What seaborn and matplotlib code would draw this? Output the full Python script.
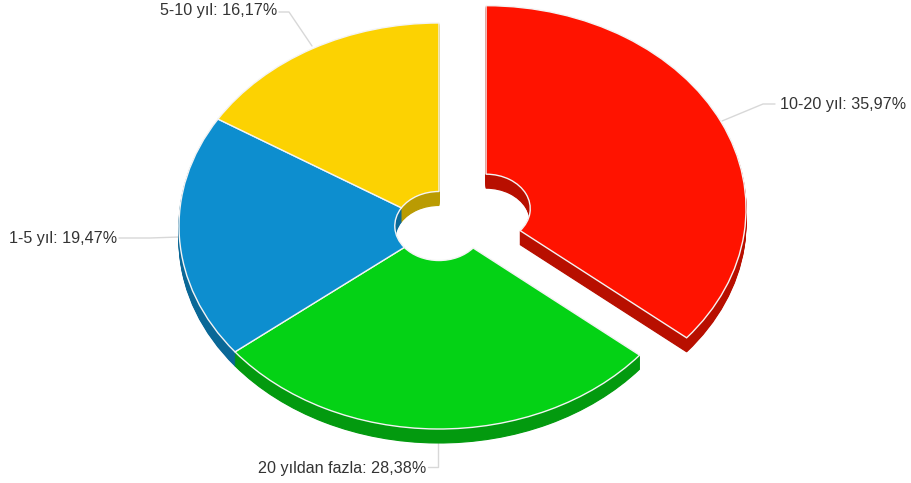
import matplotlib
matplotlib.use("Agg")
import matplotlib.pyplot as plt
import seaborn as sns

sns.set_theme(style="white")
plt.rcParams['font.family'] = ['Liberation Sans', 'DejaVu Sans']

categories = ["10-20 yıl", "20 yıldan fazla", "1-5 yıl", "5-10 yıl"]
values = [35.97, 28.38, 19.47, 16.17]
value_labels = ["35,97%", "28,38%", "19,47%", "16,17%"]
top_colors = ["#FF1300", "#04D215", "#0D8ECF", "#FCD202"]
side_colors = ["#B80F00", "#039A0F", "#0A6897", "#BA9B02"]
explode = [0.2, 0, 0, 0]

W, H = 911, 483
CX, CY, RX, RY = 439, 226, 260, 203
DEPTH_PX = 14
HOLE = 0.17


def px(x, y):
    return (x - CX) / RX, (CY - y) / RY


fig, ax = plt.subplots(figsize=(W / 100, H / 100), dpi=100)
fig.subplots_adjust(0, 0, 1, 1)

for d in range(DEPTH_PX, 0, -1):
    wedges, _ = ax.pie(values, colors=side_colors, explode=explode, startangle=90,
                       counterclock=False, center=(0, -d / RY), frame=True,
                       wedgeprops=dict(width=1 - HOLE))
    for w, c in zip(wedges, side_colors):
        w.set_edgecolor(c)
        w.set_linewidth(0.8)
ax.pie(values, colors=top_colors, explode=explode, startangle=90,
       counterclock=False, center=(0, 0), frame=True,
       wedgeprops=dict(width=1 - HOLE, linewidth=1.0, edgecolor="#F4F4F4"))

ax.set_aspect("auto")
ax.set_xlim(px(0, 0)[0], px(W, 0)[0])
ax.set_ylim(px(0, H)[1], px(0, 0)[1])
ax.axis("off")

# label anchor (right/left edge of text) and leader line, in pixels
layout = [
    (780, 104, "left", [(775, 104), (763, 104), (722, 121)]),
    (426, 468, "right", [(428, 467), (438, 467), (438, 441)]),
    (117, 238, "right", [(119, 238), (150, 238), (179, 237)]),
    (277, 10, "right", [(279, 12), (289, 12), (312, 46)]),
]
for cat, lab, (x, y, ha, line) in zip(categories, value_labels, layout):
    pts = [px(*p) for p in line]
    ax.plot([p[0] for p in pts], [p[1] for p in pts], color="#D8D8D8",
            lw=1, zorder=0.5, solid_joinstyle="round")
    tx, ty = px(x, y)
    ax.text(tx, ty, f"{cat}: {lab}", ha=ha, va="center", fontsize=11.6,
            color="#333333")

fig.savefig("out.png", dpi=100, facecolor="white")
